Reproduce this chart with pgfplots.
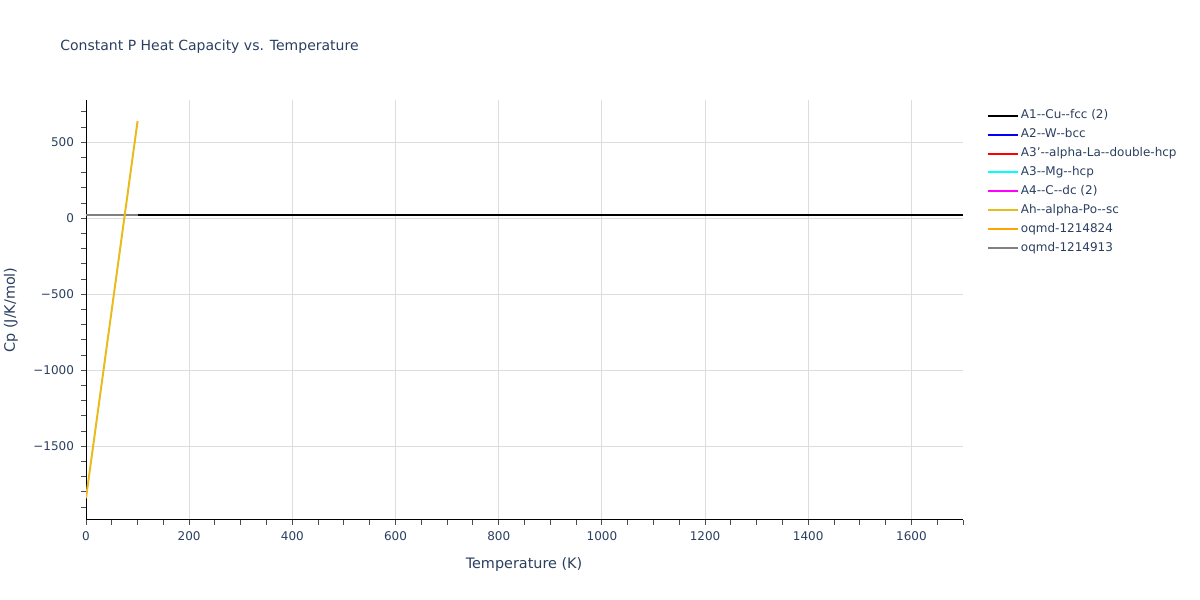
\documentclass[border=0pt]{standalone}
\usepackage{pgfplots}
\pgfplotsset{compat=1.18}
\usepackage{fontspec}
\setmainfont{DejaVu Sans}
\definecolor{txt}{HTML}{2A3F5F}
\definecolor{gridc}{HTML}{DDDDDD}
\definecolor{ahc}{RGB}{232,188,30}
\definecolor{oqo}{RGB}{255,165,0}
\definecolor{cy}{RGB}{0,255,255}
\definecolor{mg}{RGB}{255,0,255}
\definecolor{bl}{RGB}{0,0,255}
\definecolor{rd}{RGB}{255,0,0}
\definecolor{gr}{RGB}{128,128,128}
\begin{document}
\begin{tikzpicture}[x=1pt,y=1pt]
\path[use as bounding box] (0,0) rectangle (600,300);
\node[anchor=west,inner sep=0pt,text=txt,font=\fontsize{7}{8}\selectfont] at (30,276.5) {Constant P Heat Capacity vs. Temperature};
\node[text=txt,font=\fontsize{7.2}{8}\selectfont] at (262,17.5) {Temperature (K)};
\node[text=txt,font=\fontsize{7.2}{8}\selectfont,rotate=90] at (5.5,145) {Cp (J/K/mol)};
\begin{axis}[
  at={(43pt,40pt)}, anchor=south west,
  scale only axis, width=438.5pt, height=210pt,
  xmin=0, xmax=1700, ymin=-1985, ymax=778,
  axis lines*=left,
  axis line style={black, line width=0.5pt},
  xtick={0,200,...,1600}, minor xtick={0,50,...,1700},
  ytick={-1500,-1000,-500,0,500}, minor ytick={-1900,-1800,...,700},
  yticklabels={−1500,−1000,−500,0,500},
  tick align=outside, tick pos=left,
  major tick length=2.5pt, minor tick length=2.5pt,
  every tick/.style={black!70, line width=0.5pt},
  grid=major, major grid style={gridc, line width=0.5pt},
  ticklabel style={text=txt, font=\fontsize{6}{7}\selectfont},
  /pgf/number format/assume math mode=true,
  /pgf/number format/1000 sep={},
  legend cell align=left,
  legend style={at={(1.0195,0.993)}, anchor=north west, draw=none, fill=none,
    font=\fontsize{6}{7}\selectfont, text=txt, row sep=1.05pt,
    nodes={inner sep=1.2pt, text height=4.6pt, text depth=1.4pt}},
  legend image code/.code={\draw[#1] (0pt,0pt) -- (15pt,0pt);},
]
\addlegendimage{black, line width=1pt}\addlegendentry{A1-{}-Cu-{}-fcc (2)}
\addlegendimage{bl, line width=1pt}\addlegendentry{A2-{}-W-{}-bcc}
\addlegendimage{rd, line width=1pt}\addlegendentry{A3'-{}-alpha-La-{}-double-hcp}
\addlegendimage{cy, line width=1pt}\addlegendentry{A3-{}-Mg-{}-hcp}
\addlegendimage{mg, line width=1pt}\addlegendentry{A4-{}-C-{}-dc (2)}
\addlegendimage{ahc, line width=1pt}\addlegendentry{Ah-{}-alpha-Po-{}-sc}
\addlegendimage{oqo, line width=1pt}\addlegendentry{oqmd-1214824}
\addlegendimage{gr, line width=1pt}\addlegendentry{oqmd-1214913}
\addplot[black, line width=1pt, forget plot] coordinates {(100,23) (400,23) (800,23) (1200,23) (1700,23)};
\addplot[gr, line width=1pt, forget plot] coordinates {(0,23) (50,23) (100,23)};
\addplot[ahc, line width=1pt, forget plot] coordinates {(0,-1842) (100,640)};
\end{axis}
\end{tikzpicture}
\end{document}
